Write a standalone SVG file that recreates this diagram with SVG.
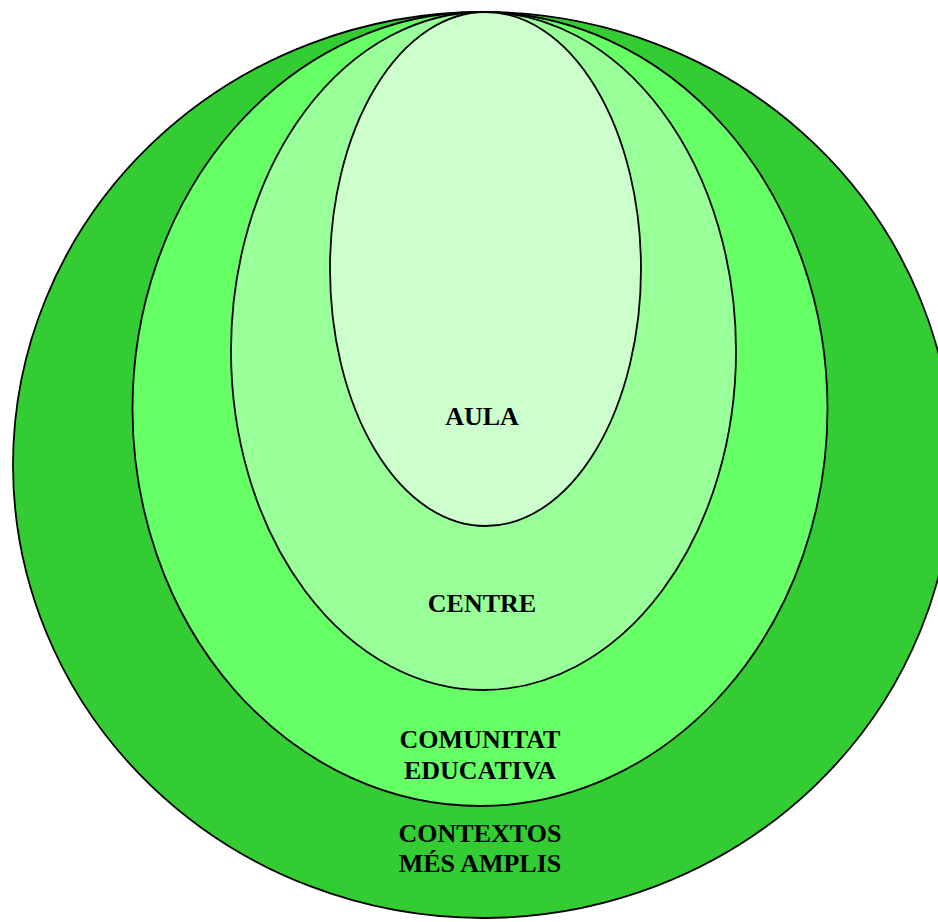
<svg xmlns="http://www.w3.org/2000/svg" width="938" height="922" viewBox="0 0 938 922">
<style>
.ring{stroke:#000;stroke-width:1.8}
.lbl{font-family:"Liberation Serif","Times New Roman",serif;font-weight:bold;font-size:26px;fill:#000;text-anchor:middle}
</style>
<rect width="938" height="922" fill="#fff"/>
<g id="contextos">
<ellipse class="ring" cx="483" cy="465" rx="470" ry="453" fill="#33CC33"/>
</g>
<g id="comunitat">
<ellipse class="ring" cx="480" cy="409" rx="347.5" ry="397" fill="#66FF66"/>
</g>
<g id="centre">
<ellipse class="ring" cx="483.5" cy="351" rx="252.5" ry="339" fill="#99FF99"/>
</g>
<g id="aula">
<ellipse class="ring" cx="485.5" cy="269" rx="155.5" ry="257" fill="#CCFFCC"/>
</g>
<g id="labels">
<text class="lbl" x="482" y="425">AULA</text>
<text class="lbl" x="482" y="612">CENTRE</text>
<text class="lbl" x="480" y="748">COMUNITAT</text>
<text class="lbl" x="480" y="779">EDUCATIVA</text>
<text class="lbl" x="480" y="842">CONTEXTOS</text>
<text class="lbl" x="480" y="872">MÉS AMPLIS</text>
</g>
<g id="connectors"></g>
</svg>
